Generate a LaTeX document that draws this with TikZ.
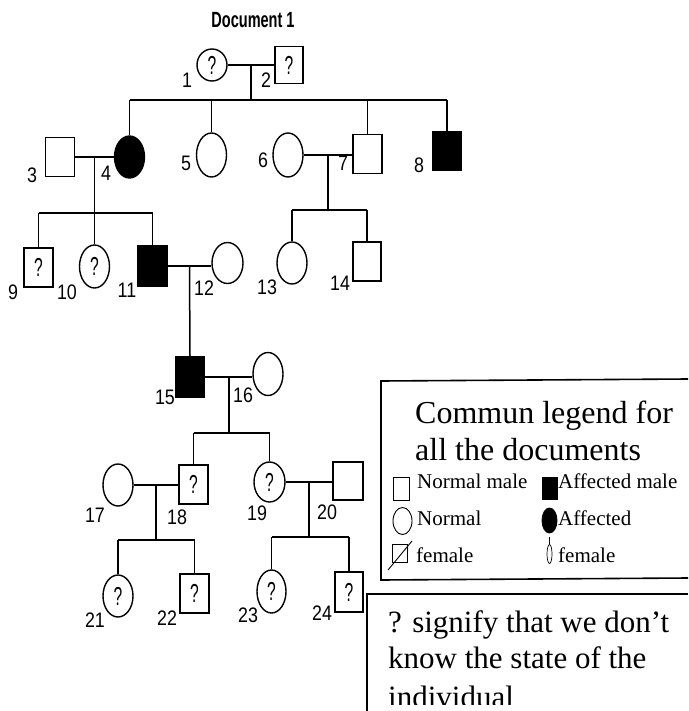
\documentclass[tikz,border=0pt]{standalone}
\usepackage{fontspec}
\usepackage{graphicx}
\setmainfont{Liberation Serif}
\newfontfamily\pedfont{Liberation Sans}
\usetikzlibrary{calc,positioning,shapes.geometric}

\tikzset{
  person/.style={draw,line width=1.4pt,inner sep=0pt,font=\pedfont\fontsize{26}{26}\selectfont},
  male/.style={person,rectangle,minimum width=29pt,minimum height=39pt},
  female/.style={person,ellipse,minimum width=30pt,minimum height=42pt},
  affected/.style={fill=black},
  idlab/.style={font=\pedfont\fontsize{21}{21}\selectfont,inner sep=0pt},
  link/.style={line width=1.5pt},
  legframe/.style={line width=1.6pt},
  legsym/.style={draw,line width=0.9pt,inner sep=0pt},
  legtxt/.style={anchor=base west,inner sep=0pt,font=\fontsize{21}{21}\selectfont},
  headtxt/.style={anchor=base west,inner sep=0pt,font=\fontsize{32}{32}\selectfont},
  notetxt/.style={anchor=base west,inner sep=0pt,font=\fontsize{31}{31}\selectfont},
}
\newcommand{\unk}{\scalebox{0.6}[1]{?}}
\newcommand{\idnum}[1]{\scalebox{0.85}[1]{#1}}

\begin{document}
\begin{tikzpicture}[x=1pt,y=-1pt]
  \fill[white] (0,0) rectangle (688,711);
  \useasboundingbox (0,0) rectangle (688,711);

  \node[font=\pedfont\bfseries\fontsize{22}{22}\selectfont] (title) at (253,20)
    {\scalebox{0.66}[1]{Document 1}};

  % generation I
  \node[female,minimum height=32pt] (i1) at (212,65) {\unk};
  \node[male,minimum width=28pt,minimum height=37pt] (i2) at (289,65) {\unk};
  % generation II
  \node[male] (i3) at (60,157) {};
  \node[female,affected] (i4) at (129.5,157) {};
  \node[female,minimum height=44pt] (i5) at (211.5,155) {};
  \node[female,minimum height=44pt] (i6) at (288,155) {};
  \node[male] (i7) at (367.5,154) {};
  \node[male,affected,minimum height=38pt] (i8) at (447,151) {};
  % generation III
  \node[male] (i9) at (38.5,267.5) {\unk};
  \node[female,minimum height=43pt] (i10) at (94.5,266.5) {\unk};
  \node[male,affected,minimum height=40pt] (i11) at (152.5,266) {};
  \node[female,minimum width=31pt,minimum height=41pt] (i12) at (227.5,263) {};
  \node[female] (i13) at (292,263) {};
  \node[male,minimum width=28pt] (i14) at (367,261.5) {};
  % generation IV
  \node[male,affected,minimum height=40pt] (i15) at (190,377) {};
  \node[female,minimum height=43pt] (i16) at (268,374) {};
  % generation V
  \node[female] (i17) at (118,485) {};
  \node[male] (i18) at (193.5,484.5) {\unk};
  \node[female,minimum width=31pt,minimum height=40pt] (i19) at (269.5,482) {\unk};
  \node[male,minimum width=30pt,minimum height=38pt] (i20) at (348,481) {};
  % generation VI
  \node[female] (i21) at (118,596) {\unk};
  \node[male] (i22) at (194.5,593.5) {\unk};
  \node[female,minimum width=29pt,minimum height=43pt] (i23) at (271.5,591.5) {\unk};
  \node[male,minimum width=28pt,minimum height=40pt] (i24) at (349,592) {\unk};

  % numbers
  \foreach \i/\x/\y in {1/187/80,2/266/80,3/32/175,4/106/173,5/186/163,6/263/160,
      7/343/163,8/419/165,9/13/292,10/67/292,11/127/290,12/204/288,13/267/287,
      14/340/283,15/165/397,16/243/395,17/95/515,18/177/517,19/257/513,20/327/512,
      21/95/620,22/167/618,23/248/615,24/322/613}
    \node[idlab] (lab\i) at (\x,\y) {\idnum{\i}};

  % couples
  \foreach \a/\b in {1/2,3/4,6/7,11/12,15/16,17/18,19/20}{%
    \draw[link] (i\a.east) -- (i\a.east -| i\b.west) coordinate (e\a);
    \coordinate (m\a) at ($(i\a.east)!0.5!(e\a)$);
  }

  % sibships
  \draw[link] (m1) -- ++(0,35) coordinate (s1);
  \draw[link] (i4.north |- s1) -- (i8.north |- s1);
  \foreach \c in {4,5,7,8}
    \draw[link] (i\c.north) -- (i\c.north |- s1);

  \draw[link] (m3) -- ++(0,56) coordinate (s3);
  \draw[link] (i9.north |- s3) -- (i11.north |- s3);
  \foreach \c in {9,10,11}
    \draw[link] (i\c.north) -- (i\c.north |- s3);

  \draw[link] (m6) -- ++(0,55) coordinate (s6);
  \draw[link] (i13.north |- s6) -- (i14.north |- s6);
  \foreach \c in {13,14}
    \draw[link] (i\c.north) -- (i\c.north |- s6);

  \draw[link] (m11) -- (i15.north);

  \draw[link] (m15) -- ++(0,56) coordinate (s15);
  \draw[link] (i18.north |- s15) -- (i19.north |- s15);
  \foreach \c in {18,19}
    \draw[link] (i\c.north) -- (i\c.north |- s15);

  \draw[link] (m17) -- ++(0,55) coordinate (s17);
  \draw[link] (i21.north |- s17) -- (i22.north |- s17);
  \foreach \c in {21,22}
    \draw[link] (i\c.north) -- (i\c.north |- s17);

  \draw[link] (m19) -- ++(0,55) coordinate (s19);
  \draw[link] (i23.north |- s19) -- (i24.north |- s19);
  \foreach \c in {23,24}
    \draw[link] (i\c.north) -- (i\c.north |- s19);

  % legend
  \draw[legframe] (688,379) -- (381,381) -- (381,580) -- (688,578);
  \node[headtxt] (head1) at (415,423) {Commun legend for};
  \node[headtxt] (head2) at (415,460) {all the documents};
  \node[legsym,rectangle,minimum width=16pt,minimum height=23pt] (km) at (401,489) {};
  \node[legsym,ellipse,minimum width=19pt,minimum height=27pt] (kf) at (402.5,521) {};
  \node[legsym,rectangle,minimum width=15pt,minimum height=18pt] (kq) at (400,553) {};
  \draw[line width=0.9pt] (388,570) -- (412,541);
  \node[legsym,rectangle,fill=black,minimum width=15pt,minimum height=22pt] (kma) at (549.5,488) {};
  \node[legsym,ellipse,fill=black,minimum width=15pt,minimum height=25pt] (kfa) at (549.5,520.5) {};
  \node[legsym,ellipse,line width=0.7pt,minimum width=5pt,minimum height=19pt] (kx) at (549.5,554) {};
  \draw[line width=0.7pt] (549.5,537) -- (kx.north);
  \node[legtxt] (t1) at (417,488) {Normal male};
  \node[legtxt] (t2) at (558,488) {Affected male};
  \node[legtxt] (t3) at (417,525) {Normal};
  \node[legtxt] (t4) at (558,525) {Affected};
  \node[legtxt] (t5) at (416,562) {female};
  \node[legtxt] (t6) at (558,562) {female};

  % note
  \draw[line width=1.3pt] (367,711) -- (367,594) -- (688,594);
  \begin{scope}
    \clip (367,594) rectangle (688,704);
    \node[notetxt] (note1) at (388,632) {? signify that we don’t};
    \node[notetxt] (note2) at (388,668) {know the state of the};
    \node[notetxt] (note3) at (388,707) {individual};
  \end{scope}
\end{tikzpicture}
\end{document}
